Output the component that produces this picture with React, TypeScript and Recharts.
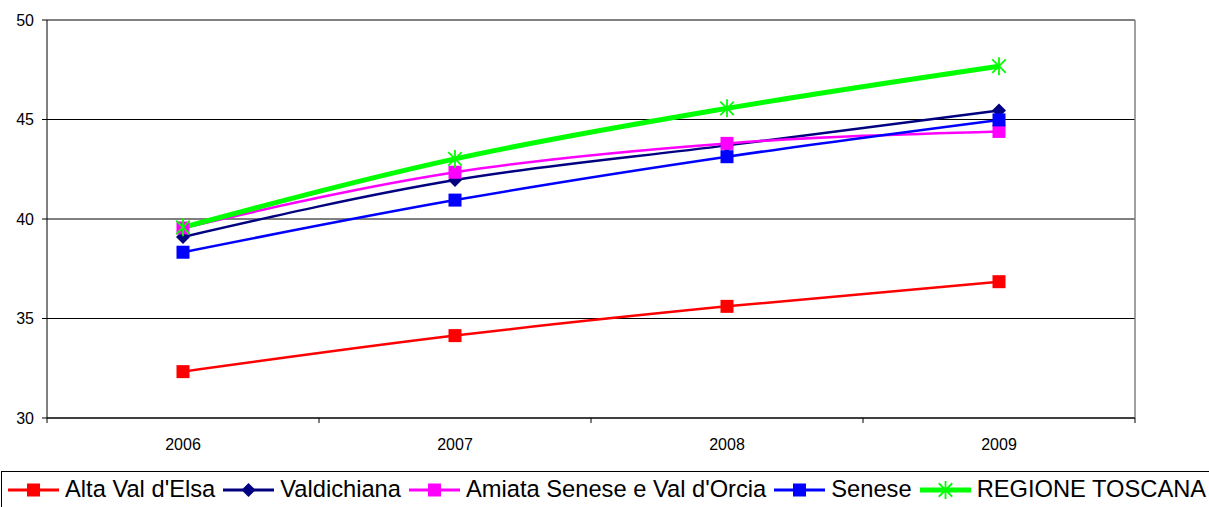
import { LineChart, Line, XAxis, YAxis, CartesianGrid, ReferenceLine } from "recharts";

const years = [2006, 2007, 2008, 2009];
const altaValDelsa = [32.33, 34.14, 35.61, 36.85];
const valdichiana = [39.1, 41.96, 43.7, 45.45];
const amiata = [39.55, 42.35, 43.8, 44.4];
const senese = [38.33, 40.95, 43.13, 44.98];
const toscana = [39.58, 43.02, 45.56, 47.68];
const yTicks = [30, 35, 40, 45, 50];

type Shape = "square" | "diamond" | "star";

const series: { key: string; name: string; color: string; width: number; shape: Shape; values: number[] }[] = [
  { key: "alta", name: "Alta Val d'Elsa", color: "#ff0000", width: 2.5, shape: "square", values: altaValDelsa },
  { key: "valdi", name: "Valdichiana", color: "#000080", width: 2.5, shape: "diamond", values: valdichiana },
  { key: "amiata", name: "Amiata Senese e Val d'Orcia", color: "#ff00ff", width: 2.5, shape: "square", values: amiata },
  { key: "senese", name: "Senese", color: "#0000ff", width: 2.5, shape: "square", values: senese },
  { key: "toscana", name: "REGIONE TOSCANA", color: "#00ff00", width: 5, shape: "star", values: toscana },
];

const data = years.map((y, i) => {
  const row: Record<string, number> = { year: y };
  series.forEach((s) => (row[s.key] = s.values[i]));
  return row;
});

// band edges, Excel style: categories sit in the middle of each slot
const xTicks = [years[0] - 0.5, ...years.flatMap((y) => [y, y + 0.5])];

const FONT = "'Liberation Sans', Arial, sans-serif";

function Marker({ cx, cy, shape, color }: { cx: number; cy: number; shape: Shape; color: string }) {
  if (cx == null || cy == null) return null;
  if (shape === "square") {
    return <rect x={cx - 6.5} y={cy - 6.5} width={13} height={13} fill={color} />;
  }
  if (shape === "diamond") {
    return (
      <polygon
        points={`${cx},${cy - 7} ${cx + 7},${cy} ${cx},${cy + 7} ${cx - 7},${cy}`}
        fill={color}
      />
    );
  }
  const r = 9;
  const d = r * 0.75;
  return (
    <g stroke={color} strokeWidth={1.8}>
      <line x1={cx} y1={cy - r} x2={cx} y2={cy + r} />
      <line x1={cx - d} y1={cy - d} x2={cx + d} y2={cy + d} />
      <line x1={cx - d} y1={cy + d} x2={cx + d} y2={cy - d} />
    </g>
  );
}

function XTick(props: any) {
  const { x, y, payload } = props;
  const v = payload.value;
  if (Number.isInteger(v)) {
    return (
      <text x={x} y={y + 32} textAnchor="middle" fontSize={16} fill="#000" fontFamily={FONT}>
        {v}
      </text>
    );
  }
  return <line x1={x} x2={x} y1={y} y2={y + 5} stroke="#000" />;
}

function Legend() {
  return (
    <div
      style={{
        position: "absolute",
        top: 471,
        left: 1,
        width: 1220,
        height: 48,
        border: "1px solid #000",
        boxSizing: "border-box",
        paddingTop: 0,
        paddingLeft: 6,
        display: "flex",
        alignItems: "flex-start",
        fontFamily: FONT,
        fontSize: 23.7,
        lineHeight: 1,
        whiteSpace: "nowrap",
      }}
    >
      {series.map((s) => (
        <div key={s.key} style={{ display: "flex", alignItems: "center", marginRight: 8, height: 36 }}>
          <svg width={51} height={20} style={{ marginRight: 6 }}>
            <line x1={0} x2={51} y1={10} y2={10} stroke={s.color} strokeWidth={s.shape === "star" ? 5 : 3} />
            <Marker cx={25.5} cy={10} shape={s.shape} color={s.color} />
          </svg>
          <span>{s.name}</span>
        </div>
      ))}
    </div>
  );
}

export default function App() {
  return (
    <div style={{ position: "absolute", top: 0, left: 0, width: 1209, height: 507, background: "#fff", overflow: "hidden" }}>
      <LineChart width={1209} height={470} data={data} margin={{ top: 20, right: 74, bottom: 0, left: 0 }}>
        <CartesianGrid vertical={false} stroke="#000" />
        <XAxis
          dataKey="year"
          type="number"
          domain={[years[0] - 0.5, years[years.length - 1] + 0.5]}
          ticks={xTicks}
          interval={0}
          tickSize={0}
          tickMargin={0}
          tickLine={false}
          tick={<XTick />}
          height={52}
          axisLine={{ stroke: "#000" }}
        />
        <YAxis
          domain={[30, 50]}
          ticks={yTicks}
          interval={0}
          width={47}
          tickSize={5}
          tickMargin={8}
          axisLine={{ stroke: "#000" }}
          tickLine={{ stroke: "#000" }}
          tick={{ fontSize: 16, fill: "#000", fontFamily: FONT }}
        />
        <ReferenceLine y={50} stroke="#808080" strokeWidth={1.5} />
        <ReferenceLine x={years[years.length - 1] + 0.5} stroke="#808080" strokeWidth={1.5} />
        {series.map((s) => (
          <Line
            key={s.key}
            dataKey={s.key}
            name={s.name}
            type="monotone"
            stroke={s.color}
            strokeWidth={s.width}
            isAnimationActive={false}
            activeDot={false}
            dot={(p: any) => <Marker key={`${s.key}-${p.index}`} cx={p.cx} cy={p.cy} shape={s.shape} color={s.color} />}
          />
        ))}
      </LineChart>
      <Legend />
    </div>
  );
}
